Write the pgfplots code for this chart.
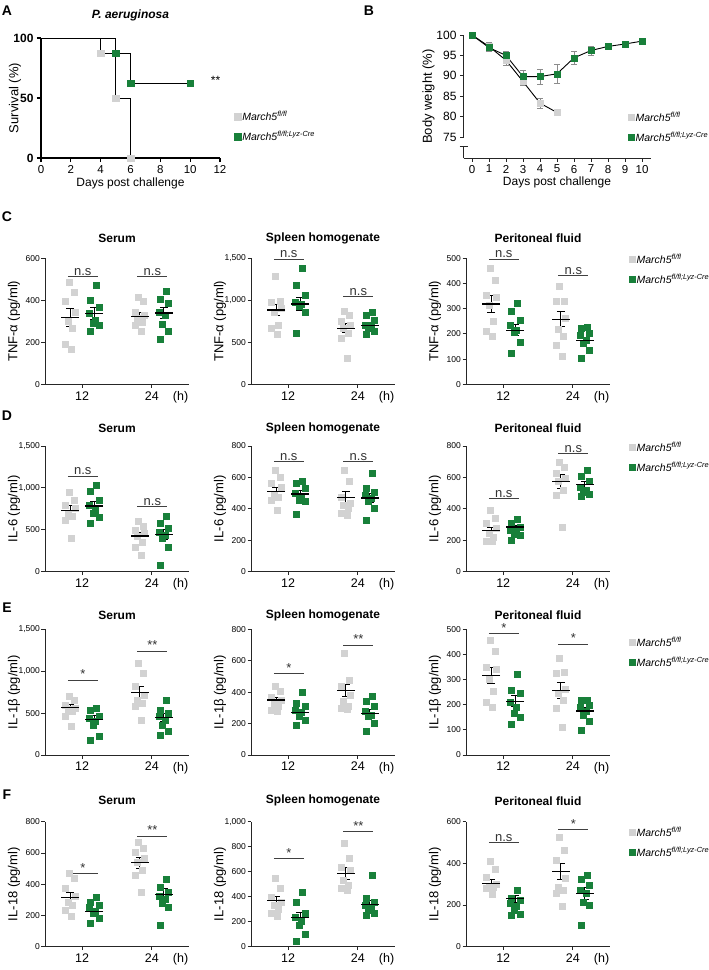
\documentclass[border=0pt]{standalone}
\usepackage{fontspec}
\setmainfont{Liberation Sans}
\usepackage{pgfplots}
\pgfplotsset{compat=1.18}
\definecolor{mgray}{RGB}{210,210,210}
\definecolor{mgreen}{RGB}{24,128,58}
\newcommand{\legGray}{\textit{March5}\textsuperscript{\textit{fl/fl}}}
\newcommand{\legGreen}{\textit{March5}\textsuperscript{\textit{fl/fl;Lyz-Cre}}}
\tikzset{sigtext/.style={anchor=south, inner sep=1pt, font=\fontsize{13}{15}\selectfont, black!80},
  letter/.style={font=\bfseries\fontsize{14}{16}\selectfont}}
\pgfplotsset{
  gpt/.style={only marks, mark=square*, mark size=3pt, color=mgray, mark options={fill=mgray, draw=mgray}},
  kpt/.style={only marks, mark=square*, mark size=3pt, color=mgreen, mark options={fill=mgreen, draw=mgreen}},
  meanst/.style={forget plot, only marks, mark=-, mark size=9pt, mark options={line width=1.3pt, black},
     error bars/.cd, y dir=both, y explicit, error bar style={line width=0.9pt, black},
     error mark options={rotate=90, mark size=4pt, line width=0.9pt, black}},
  sigline/.style={forget plot, black!75, line width=1pt},
  base/.style={scale only axis, clip=false, axis x line*=bottom, axis y line*=left,
     axis line style={-, line width=0.9pt, black!85}, tick style={line width=0.9pt, black!85},
     tick align=outside, major tick length=3.5pt,
     /pgf/number format/assume math mode=true, /pgf/number format/1000 sep={,}, scaled y ticks=false,
     legend cell align=left,
     legend style={draw=none, fill=none, inner sep=0pt, anchor=north west, font=\fontsize{10.5}{12}\selectfont, row sep=7pt, nodes={inner sep=1pt}}},
  scat/.style={base, width=144pt, xmin=0, xmax=12, ymin=0, xtick={3.1,8.9}, xticklabels={12,24},
     extra x ticks={11.3}, extra x tick labels={(h)}, extra x tick style={tick style={draw=none}},
     xticklabel style={font=\fontsize{12.5}{14}\selectfont}, yticklabel style={font=\fontsize{8.5}{10}\selectfont, inner sep=1.5pt},
     ylabel style={font=\fontsize{13}{15}\selectfont, at={(rel axis cs:0,0.5)}, anchor=center, yshift=31pt},
     title style={font=\bfseries\fontsize{12}{14}\selectfont, at={(0.5,1)}, anchor=center}},
}
\newcommand{\sigA}[2]{\addplot[sigline] coordinates {(1.9,#1) (4.4,#1)}; \node[sigtext] at (axis cs:3.15,#1) {#2};}
\newcommand{\sigB}[2]{\addplot[sigline] coordinates {(7.7,#1) (10.2,#1)}; \node[sigtext] at (axis cs:8.95,#1) {#2};}
\begin{document}
\begin{tikzpicture}
\path[use as bounding box] (0,0) rectangle (709pt,-970pt);
\node[letter] at (7pt,-11pt) {A};
\node[letter] at (369pt,-11pt) {B};
\node[letter] at (7pt,-217pt) {C};
\node[letter] at (7pt,-416pt) {D};
\node[letter] at (7pt,-608pt) {E};
\node[letter] at (7pt,-795pt) {F};

% ---------------- A
\begin{axis}[base, at={(41pt,-158pt)}, anchor=south west, width=179pt, height=120pt,
  xmin=0, xmax=12, ymin=0, ymax=100, xtick={0,2,...,12}, ytick={0,50,100},
  axis line style={-, line width=1.3pt, black}, tick style={line width=1.3pt, black}, major tick length=4pt,
  yticklabel style={font=\bfseries\fontsize{12}{14}\selectfont},
  xticklabel style={font=\fontsize{11.5}{13}\selectfont},
  xlabel={Days post challenge}, ylabel={Survival (\%)},
  xlabel style={font=\fontsize{12}{14}\selectfont, yshift=3pt},
  ylabel style={font=\fontsize{13}{15}\selectfont, at={(rel axis cs:0,0.5)}, anchor=center, yshift=26pt},
  title={\textbf{\textit{P. aeruginosa}}}, title style={font=\fontsize{12}{14}\selectfont, at={(0.5,1)}, anchor=center, yshift=17pt},
  legend style={at={(1.081,0.40)}}]
\addplot[const plot, black, line width=0.9pt, forget plot] coordinates {(0,100) (4,87.5) (5,50) (6,0)};
\addplot[const plot, black, line width=0.9pt, forget plot] coordinates {(0,100) (5,87.5) (6,62.5) (10,62.5)};
\addplot[gpt, mark size=3.3pt] coordinates {(4,87.5) (5,50) (6,0)};
\addlegendentry{\legGray}
\addplot[kpt, mark size=3.3pt] coordinates {(5,87.5) (6,62.5) (10,62.5)};
\addlegendentry{\legGreen}
\node[font=\fontsize{12}{14}\selectfont] at (axis cs:11.7,65) {**};
\end{axis}

% ---------------- B
\begin{axis}[base, at={(463.5pt,-158pt)}, anchor=south west, width=187pt, height=123pt,
  xmin=-0.5, xmax=10.5, ymin=69.85, ymax=100, xtick={0,...,10}, ytick={75,80,...,100},
  y axis line style={draw=none},
  xticklabel style={font=\fontsize{11.5}{13}\selectfont}, yticklabel style={font=\fontsize{12}{14}\selectfont},
  xlabel={Days post challenge}, ylabel={Body weight (\%)},
  xlabel style={font=\fontsize{12}{14}\selectfont, yshift=3pt},
  ylabel style={font=\fontsize{13}{15}\selectfont, at={(rel axis cs:0,0.5)}, anchor=center, yshift=35pt},
  legend style={at={(0.882,0.382)}}]
\draw[line width=0.9pt, black!85] (axis cs:-0.5,75) -- (axis cs:-0.5,100);
\draw[line width=0.9pt, black!85] (axis cs:-0.5,69.85) -- (axis cs:-0.5,72.7);
\draw[line width=0.9pt, black!85] ([xshift=-4pt]axis cs:-0.5,72.7) -- ([xshift=4pt]axis cs:-0.5,72.7);
\addplot[only marks, mark=square*, mark size=3pt, color=mgray, mark options={fill=mgray, draw=mgray},
  error bars/.cd, y dir=both, y explicit, error bar style={line width=0.8pt, black!45},
  error mark options={rotate=90, mark size=3pt, line width=0.8pt, black!45}]
  table[row sep=\\, x=x, y=y, y error=e] {x y e\\0 100 0\\1 97.2 1.0\\2 93.8 1.2\\3 88.6 1.0\\4 83.3 1.2\\5 81.0 0.3\\};
\addlegendentry{\legGray}
\addplot[only marks, mark=square*, mark size=3pt, color=mgreen, mark options={fill=mgreen, draw=mgreen},
  error bars/.cd, y dir=both, y explicit, error bar style={line width=0.8pt, black!45},
  error mark options={rotate=90, mark size=3pt, line width=0.8pt, black!45}]
  table[row sep=\\, x=x, y=y, y error=e] {x y e\\0 100 0\\1 96.9 0.8\\2 95.0 1.0\\3 89.8 1.6\\4 89.8 1.8\\5 90.5 2.3\\6 94.4 1.5\\7 96.2 1.1\\8 97.2 0.8\\9 97.8 0.6\\10 98.5 0.6\\};
\addlegendentry{\legGreen}
\addplot[black, line width=0.9pt, forget plot] table[row sep=\\] {x y\\0 100\\1 97.2\\2 93.8\\3 88.6\\4 83.3\\5 81.0\\};
\addplot[black, line width=0.9pt, forget plot] table[row sep=\\] {x y\\0 100\\1 96.9\\2 95.0\\3 89.8\\4 89.8\\5 90.5\\6 94.4\\7 96.2\\8 97.2\\9 97.8\\10 98.5\\};
\end{axis}

% ================= Row C
\begin{axis}[scat, at={(45pt,-384.3pt)}, anchor=south west, height=126pt, ymax=600, ytick={0,200,400,600},
  ylabel={TNF-α (pg/ml)}, title={Serum}, title style={yshift=14pt}]
\addplot[gpt] table[row sep=\\] {x y\\2.0 486\\2.4 441\\1.7 395\\2.5 345\\1.9 300\\2.3 265\\1.7 190\\2.2 168\\7.8 415\\8.2 395\\7.5 345\\8.3 330\\7.7 315\\8.1 295\\7.5 280\\8.0 255\\};
\addplot[kpt] table[row sep=\\] {x y\\4.3 470\\3.8 401\\4.5 367\\3.7 338\\4.2 306\\4.0 290\\4.5 283\\3.8 254\\10.1 444\\9.6 406\\10.3 386\\9.5 343\\10.0 330\\9.8 287\\10.3 254\\9.6 214\\};
\addplot[meanst] table[row sep=\\, x=x, y=m, y error=s] {x m s\\2.1 317 42\\4.1 337 27\\7.9 322 18\\9.9 340 27\\};
\sigA{513}{n.s}
\sigB{513}{n.s}
\end{axis}

\begin{axis}[scat, at={(251pt,-384.3pt)}, anchor=south west, height=126pt, ymax=1500, ytick={0,500,1000,1500},
  ylabel={TNF-α (pg/ml)}, title={Spleen homogenate}, title style={yshift=14pt}]
\addplot[gpt] table[row sep=\\] {x y\\2.0 1282\\2.4 992\\1.7 976\\2.5 905\\1.9 857\\2.3 706\\1.7 667\\2.2 595\\7.8 865\\8.2 817\\7.5 746\\8.3 706\\7.7 667\\8.1 607\\7.5 548\\8.0 310\\};
\addplot[kpt] table[row sep=\\] {x y\\4.3 1381\\3.8 1183\\4.5 1063\\3.7 976\\4.2 956\\4.0 925\\4.5 857\\3.8 607\\10.1 857\\9.6 817\\10.3 758\\9.5 706\\10.0 706\\9.8 667\\10.3 627\\9.6 600\\};
\addplot[meanst] table[row sep=\\, x=x, y=m, y error=s] {x m s\\2.1 885 70\\4.1 956 80\\7.9 667 55\\9.9 700 35\\};
\sigA{1490}{n.s}
\sigB{1044}{n.s}
\end{axis}

\begin{axis}[scat, at={(466pt,-384.3pt)}, anchor=south west, height=126pt, ymax=500, ytick={0,100,...,500},
  ylabel={TNF-α (pg/ml)}, title={Peritoneal fluid}, title style={yshift=14pt}, legend style={at={(1.135,1.042)}}]
\addplot[gpt] table[row sep=\\] {x y\\2.0 460\\2.4 414\\1.7 355\\2.5 344\\1.9 315\\2.3 249\\1.7 209\\2.2 192\\7.8 388\\8.2 331\\7.5 328\\8.3 262\\7.7 220\\8.1 189\\7.5 156\\8.0 112\\};
\addlegendentry{\legGray}
\addplot[kpt] table[row sep=\\] {x y\\4.3 321\\3.8 291\\4.5 255\\3.7 235\\4.2 216\\4.0 206\\4.5 169\\3.8 123\\10.1 225\\9.6 222\\10.3 202\\9.5 196\\10.0 176\\9.8 163\\10.3 136\\9.6 103\\};
\addlegendentry{\legGreen}
\addplot[meanst] table[row sep=\\, x=x, y=m, y error=s] {x m s\\2.1 319 33\\4.1 214 22\\7.9 258 30\\9.9 175 12\\};
\sigA{496}{n.s}
\sigB{431}{n.s}
\end{axis}

% ================= Row D
\begin{axis}[scat, at={(45pt,-571.7pt)}, anchor=south west, height=125.7pt, ymax=1500, ytick={0,500,1000,1500},
  ylabel={IL-6 (pg/ml)}, title={Serum}, title style={yshift=12pt}]
\addplot[gpt] table[row sep=\\] {x y\\2.0 950\\2.4 855\\1.7 790\\2.5 760\\1.9 700\\2.3 657\\1.7 617\\2.2 398\\7.8 597\\8.2 545\\7.5 497\\8.3 458\\7.7 426\\8.1 358\\7.5 298\\8.0 199\\};
\addplot[kpt] table[row sep=\\] {x y\\4.3 1035\\3.8 955\\4.5 855\\3.7 796\\4.2 736\\4.0 696\\4.5 649\\3.8 577\\10.1 664\\9.6 577\\10.3 517\\9.5 477\\10.0 438\\9.8 398\\10.3 298\\9.6 80\\};
\addplot[meanst] table[row sep=\\, x=x, y=m, y error=s] {x m s\\2.1 728 60\\4.1 784 50\\7.9 425 40\\9.9 445 55\\};
\sigA{1142}{n.s}
\sigB{776}{n.s}
\end{axis}

\begin{axis}[scat, at={(251pt,-571.7pt)}, anchor=south west, height=125.7pt, ymax=800, ytick={0,200,...,800},
  ylabel={IL-6 (pg/ml)}, title={Spleen homogenate}, title style={yshift=12pt}]
\addplot[gpt] table[row sep=\\] {x y\\2.0 647\\2.4 600\\1.7 562\\2.5 541\\1.9 488\\2.3 473\\1.7 456\\2.2 393\\7.8 647\\8.2 573\\7.5 477\\8.3 435\\7.7 424\\8.1 403\\7.5 371\\8.0 361\\};
\addplot[kpt] table[row sep=\\] {x y\\4.3 573\\3.8 562\\4.5 530\\3.7 499\\4.2 473\\4.0 456\\4.5 446\\3.8 365\\10.1 626\\9.6 530\\10.3 509\\9.5 488\\10.0 467\\9.8 446\\10.3 403\\9.6 329\\};
\addplot[meanst] table[row sep=\\, x=x, y=m, y error=s] {x m s\\2.1 509 30\\4.1 494 25\\7.9 473 35\\9.9 470 30\\};
\sigA{700}{n.s}
\sigB{700}{n.s}
\end{axis}

\begin{axis}[scat, at={(466pt,-571.7pt)}, anchor=south west, height=125.7pt, ymax=800, ytick={0,200,...,800},
  ylabel={IL-6 (pg/ml)}, title={Peritoneal fluid}, title style={yshift=12pt}, legend style={at={(1.135,1.042)}}]
\addplot[gpt] table[row sep=\\] {x y\\2.0 393\\2.4 340\\1.7 308\\2.5 276\\1.9 244\\2.3 219\\1.7 191\\2.2 191\\7.8 700\\8.2 668\\7.5 626\\8.3 594\\7.7 573\\8.1 520\\7.5 488\\8.0 286\\};
\addlegendentry{\legGray}
\addplot[kpt] table[row sep=\\] {x y\\4.3 333\\3.8 308\\4.5 286\\3.7 265\\4.2 255\\4.0 240\\4.5 233\\3.8 202\\10.1 643\\9.6 605\\10.3 573\\9.5 541\\10.0 520\\9.8 509\\10.3 494\\9.6 482\\};
\addlegendentry{\legGreen}
\addplot[meanst] table[row sep=\\, x=x, y=m, y error=s] {x m s\\2.1 261 22\\4.1 285 12\\7.9 573 45\\9.9 556 20\\};
\sigA{463}{n.s}
\sigB{753}{n.s}
\end{axis}

% ================= Row E
\begin{axis}[scat, at={(45pt,-755pt)}, anchor=south west, height=125.7pt, ymax=1500, ytick={0,500,1000,1500},
  ylabel={IL-1β (pg/ml)}, title={Serum}, title style={yshift=8pt}]
\addplot[gpt] table[row sep=\\] {x y\\2.0 704\\2.4 649\\1.7 597\\2.5 557\\1.9 550\\2.3 517\\1.7 458\\2.2 346\\7.8 1094\\8.2 975\\7.5 816\\8.3 716\\7.7 656\\8.1 620\\7.5 577\\8.0 410\\};
\addplot[kpt] table[row sep=\\] {x y\\4.3 557\\3.8 537\\4.5 466\\3.7 438\\4.2 398\\4.0 358\\4.5 219\\3.8 171\\10.1 649\\9.6 537\\10.3 497\\9.5 458\\10.0 418\\9.8 358\\10.3 279\\9.6 239\\};
\addplot[meanst] table[row sep=\\, x=x, y=m, y error=s] {x m s\\2.1 565 35\\4.1 426 45\\7.9 744 70\\9.9 446 50\\};
\sigA{895}{*}
\sigB{1241}{**}
\end{axis}

\begin{axis}[scat, at={(251pt,-755pt)}, anchor=south west, height=125.7pt, ymax=800, ytick={0,200,...,800},
  ylabel={IL-1β (pg/ml)}, title={Spleen homogenate}, title style={yshift=8pt}]
\addplot[gpt] table[row sep=\\] {x y\\2.0 435\\2.4 403\\1.7 367\\2.5 346\\1.9 329\\2.3 308\\1.7 286\\2.2 276\\7.8 651\\8.2 477\\7.5 435\\8.3 382\\7.7 340\\8.1 308\\7.5 297\\8.0 291\\};
\addplot[kpt] table[row sep=\\] {x y\\4.3 397\\3.8 329\\4.5 308\\3.7 286\\4.2 270\\4.0 248\\4.5 223\\3.8 191\\10.1 376\\9.6 340\\10.3 308\\9.5 276\\10.0 255\\9.8 244\\10.3 202\\9.6 149\\};
\addplot[meanst] table[row sep=\\, x=x, y=m, y error=s] {x m s\\2.1 350 15\\4.1 270 20\\7.9 410 40\\9.9 265 25\\};
\sigA{520}{*}
\sigB{700}{**}
\end{axis}

\begin{axis}[scat, at={(466pt,-755pt)}, anchor=south west, height=125.7pt, ymax=500, ytick={0,100,...,500},
  ylabel={IL-1β (pg/ml)}, title={Peritoneal fluid}, title style={yshift=8pt}, legend style={at={(1.135,0.949)}}]
\addplot[gpt] table[row sep=\\] {x y\\2.0 457\\2.4 411\\1.7 351\\2.5 340\\1.9 300\\2.3 252\\1.7 212\\2.2 190\\7.8 385\\8.2 330\\7.5 325\\8.3 260\\7.7 245\\8.1 220\\7.5 186\\8.0 110\\};
\addlegendentry{\legGray}
\addplot[kpt] table[row sep=\\] {x y\\4.3 322\\3.8 256\\4.5 245\\3.7 212\\4.2 192\\4.0 165\\4.5 152\\3.8 122\\10.1 218\\9.6 218\\10.3 200\\9.5 190\\10.0 175\\9.8 160\\10.3 135\\9.6 100\\};
\addlegendentry{\legGreen}
\addplot[meanst] table[row sep=\\, x=x, y=m, y error=s] {x m s\\2.1 316 33\\4.1 214 22\\7.9 257 31\\9.9 175 13\\};
\sigA{484}{*}
\sigB{441}{*}
\end{axis}

% ================= Row F
\begin{axis}[scat, at={(45pt,-946.7pt)}, anchor=south west, height=125pt, ymax=800, ytick={0,200,...,800},
  ylabel={IL-18 (pg/ml)}, title={Serum}, title style={yshift=15pt}]
\addplot[gpt] table[row sep=\\] {x y\\2.0 469\\2.4 437\\1.7 373\\2.5 324\\1.9 288\\2.3 267\\1.7 235\\2.2 196\\7.8 672\\8.2 629\\7.5 608\\8.3 565\\7.7 544\\8.1 491\\7.5 459\\8.0 352\\};
\addplot[kpt] table[row sep=\\] {x y\\4.3 316\\3.8 288\\4.5 267\\3.7 252\\4.2 230\\4.0 213\\4.5 181\\3.8 149\\10.1 431\\9.6 384\\10.3 352\\9.5 324\\10.0 303\\9.8 277\\10.3 252\\9.6 139\\};
\addplot[meanst] table[row sep=\\, x=x, y=m, y error=s] {x m s\\2.1 316 30\\4.1 224 20\\7.9 538 35\\9.9 335 40\\};
\sigA{469}{*}
\sigB{708}{**}
\end{axis}

\begin{axis}[scat, at={(251pt,-946.7pt)}, anchor=south west, height=125pt, ymax=1000, ytick={0,200,...,1000},
  ylabel={IL-18 (pg/ml)}, title={Spleen homogenate}, title style={yshift=15pt}]
\addplot[gpt] table[row sep=\\] {x y\\2.0 547\\2.4 467\\1.7 400\\2.5 360\\1.9 333\\2.3 299\\1.7 267\\2.2 245\\7.8 827\\8.2 707\\7.5 635\\8.3 613\\7.7 533\\8.1 493\\7.5 467\\8.0 453\\};
\addplot[kpt] table[row sep=\\] {x y\\4.3 440\\3.8 360\\4.5 267\\3.7 240\\4.2 208\\4.0 173\\4.5 101\\3.8 48\\10.1 573\\9.6 387\\10.3 360\\9.5 333\\10.0 315\\9.8 293\\10.3 272\\9.6 253\\};
\addplot[meanst] table[row sep=\\, x=x, y=m, y error=s] {x m s\\2.1 371 35\\4.1 232 45\\7.9 587 45\\9.9 339 30\\};
\sigA{707}{*}
\sigB{920}{**}
\end{axis}

\begin{axis}[scat, at={(466pt,-946.7pt)}, anchor=south west, height=125pt, ymax=600, ytick={0,200,400,600},
  ylabel={IL-18 (pg/ml)}, title={Peritoneal fluid}, title style={yshift=15pt}, legend style={at={(1.135,0.968)}}]
\addplot[gpt] table[row sep=\\] {x y\\2.0 412\\2.4 372\\1.7 336\\2.5 300\\1.9 288\\2.3 284\\1.7 280\\2.2 250\\7.8 528\\8.2 464\\7.5 416\\8.3 328\\7.7 288\\8.1 272\\7.5 256\\8.0 195\\};
\addlegendentry{\legGray}
\addplot[kpt] table[row sep=\\] {x y\\4.3 272\\3.8 232\\4.5 221\\3.7 208\\4.2 195\\4.0 176\\4.5 157\\3.8 152\\10.1 344\\9.6 323\\10.3 296\\9.5 272\\10.0 256\\9.8 216\\10.3 200\\9.6 104\\};
\addlegendentry{\legGreen}
\addplot[meanst] table[row sep=\\, x=x, y=m, y error=s] {x m s\\2.1 302 22\\4.1 230 18\\7.9 360 38\\9.9 256 28\\};
\sigA{499}{n.s}
\sigB{563}{*}
\end{axis}
\end{tikzpicture}
\end{document}
